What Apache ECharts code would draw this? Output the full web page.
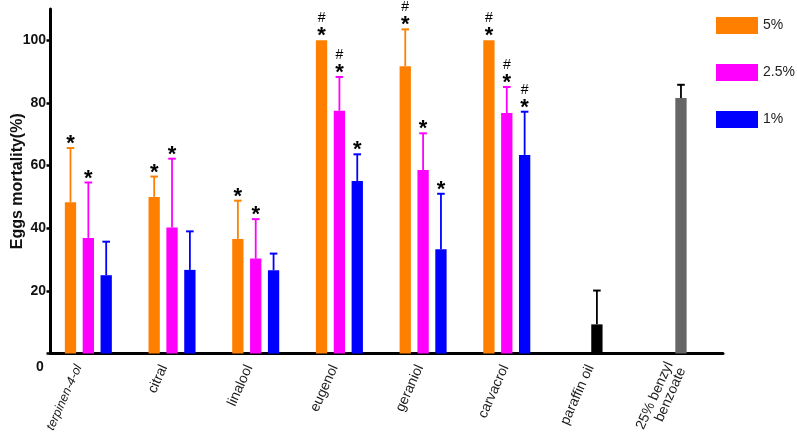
<!DOCTYPE html>
<html><head><meta charset="utf-8">
<script src="https://cdn.jsdelivr.net/npm/echarts@6/dist/echarts.min.js"></script>
<style>html,body{margin:0;padding:0;background:#fff}#c{width:797px;height:441px}</style>
</head><body><div id="c"></div>
<script>
// ---------- data ----------
const categories = ['terpinen-4-ol','citral','linalool','eugenol','geraniol','carvacrol','paraffin oil','25% benzyl\nbenzoate'];
const doseNames = ['5%','2.5%','1%'];
const mean5  = [48.3, 50.0, 36.6, 100, 91.7, 100, null, null];
const err5   = [17.3, 6.5, 12.2, 0, 11.8, 0, null, null];
const sig5   = ['*','*','*','#*','#*','#*','',''];
const mean25 = [36.9, 40.2, 30.3, 77.5, 58.6, 76.8, null, null];
const err25  = [17.7, 22.0, 12.6, 10.8, 11.7, 8.3, null, null];
const sig25  = ['*','*','*','#*','*','#*','',''];
const mean1  = [25.0, 26.7, 26.6, 55.1, 33.3, 63.4, null, null];
const err1   = [10.7, 12.3, 5.3, 8.5, 17.7, 13.8, null, null];
const sig1   = ['','','','*','*','#*','',''];
const controlMean = [null, null, null, null, null, null, 9.3, 81.6];
const controlErr  = [null, null, null, null, null, null, 10.8, 4.2];
const yTicks = [20, 40, 60, 80, 100];

// ---------- style ----------
const FONT = '"Liberation Sans", Arial, sans-serif';
const COLORS = ['#FF8000', '#FF00FF', '#0000FF'];
const CONTROL_COLORS = ['#000000', '#666666'];
const BAR_W = 11.3, BAR_GAP = 0.58, CAP = 3.8;
const STEP = BAR_W * (1 + BAR_GAP);

function makeErr(xi, means, errs, sigs, offset, colorFn) {
  return {
    type: 'custom', xAxisIndex: xi, yAxisIndex: xi, z: 5, silent: true,
    data: means.map((m, i) => [i, m == null ? 0 : m, errs[i] == null ? 0 : errs[i]]),
    renderItem(params, api) {
      const idx = params.dataIndex;
      const m = means[idx];
      if (m == null) return null;
      const e = errs[idx] || 0;
      const base = api.coord([idx, m]);
      const top = api.coord([idx, m + e]);
      const x = base[0] + offset;
      const color = colorFn(idx);
      const ch = [];
      if (e > 0) {
        ch.push({type: 'line', shape: {x1: x, y1: base[1], x2: x, y2: top[1]}, style: {stroke: color, lineWidth: 1.8}});
        ch.push({type: 'line', shape: {x1: x - CAP, y1: top[1], x2: x + CAP, y2: top[1]}, style: {stroke: color, lineWidth: 2}});
      }
      const s = sigs ? sigs[idx] : '';
      if (s.indexOf('*') >= 0) ch.push({type: 'text', style: {text: '*', x: x, y: top[1] - 4, align: 'center', verticalAlign: 'middle', font: 'bold 22px ' + FONT, fill: '#000'}});
      if (s.indexOf('#') >= 0) ch.push({type: 'text', style: {text: '#', x: x, y: top[1] - 22, align: 'center', verticalAlign: 'middle', font: '14px ' + FONT, fill: '#000'}});
      return {type: 'group', children: ch};
    }
  };
}

const doseMeans = [mean5, mean25, mean1];
const doseErrs = [err5, err25, err1];
const doseSigs = [sig5, sig25, sig1];

const series = [];
doseNames.forEach((n, k) => {
  series.push({
    name: n, type: 'bar', xAxisIndex: 1, yAxisIndex: 1,
    data: doseMeans[k], barWidth: BAR_W, barGap: (BAR_GAP * 100) + '%',
    itemStyle: {color: COLORS[k]}
  });
});
series.push({
  name: 'control', type: 'bar', xAxisIndex: 0, yAxisIndex: 0, barWidth: BAR_W,
  data: controlMean.map((v, i) => v == null ? null : {value: v, itemStyle: {color: CONTROL_COLORS[i - 6]}})
});
doseNames.forEach((n, k) => {
  series.push(makeErr(1, doseMeans[k], doseErrs[k], doseSigs[k], (k - 1) * STEP, () => COLORS[k]));
});
series.push(makeErr(0, controlMean, controlErr, null, 0, () => '#000'));

const chart = echarts.init(document.getElementById('c'), null, {renderer: 'canvas'});
chart.setOption({
  animation: false,
  backgroundColor: '#fff',
  textStyle: {fontFamily: FONT},
  grid: [
    {left: 50.5, right: 74, top: 9, bottom: 87.5, containLabel: false, outerBoundsMode: 'none'},
    {left: 46.5, right: 81, top: 9, bottom: 87.5, containLabel: false, outerBoundsMode: 'none'},
    {left: 36, right: 78.5, top: 9, bottom: 87.5, containLabel: false, outerBoundsMode: 'none'}
  ],
  legend: {
    data: doseNames, orient: 'vertical', left: 716, top: 17, padding: 0,
    itemWidth: 42, itemHeight: 17, itemGap: 30, icon: 'rect',
    textStyle: {fontSize: 14, color: '#222', fontFamily: FONT}
  },
  xAxis: [
    {
      gridIndex: 0, type: 'category', data: categories,
      axisLine: {lineStyle: {color: '#000', width: 3}},
      axisTick: {show: false},
      axisLabel: {show: false}
    },
    {gridIndex: 1, type: 'category', data: categories, show: false},
    {
      gridIndex: 2, type: 'category', data: categories,
      axisLine: {show: false}, axisTick: {show: false},
      axisLabel: {
        interval: 0, rotate: 66, fontSize: 14, color: '#1a1a1a', margin: 12, fontFamily: FONT,
        formatter: (v, i) => i === 0 ? '{it|' + v + '}' : v,
        rich: {it: {fontStyle: 'italic', fontSize: 12.5, color: '#1a1a1a', fontFamily: FONT}}
      }
    }
  ],
  yAxis: [
    {
      gridIndex: 0, type: 'value', min: 0, max: 110, interval: 20,
      name: 'Eggs mortality(%)', nameLocation: 'middle', nameGap: 25, nameMoveOverlap: false,
      nameTextStyle: {fontSize: 16, fontWeight: 'bold', color: '#111', fontFamily: FONT},
      axisLine: {show: true, lineStyle: {color: '#000', width: 3}},
      axisTick: {show: true, length: 4, lineStyle: {color: '#000', width: 2.5}, customValues: [0].concat(yTicks)},
      axisLabel: {fontSize: 14, fontWeight: 'bold', color: '#111', margin: 4.5, customValues: yTicks, fontFamily: FONT},
      splitLine: {show: false}
    },
    {gridIndex: 1, type: 'value', min: 0, max: 110, show: false},
    {gridIndex: 2, type: 'value', min: 0, max: 110, show: false}
  ],
  graphic: [{
    type: 'text', left: 36, top: 360,
    style: {text: '0', font: 'bold 14px ' + FONT, fill: '#111'}
  }],
  series: series
});
</script></body></html>
